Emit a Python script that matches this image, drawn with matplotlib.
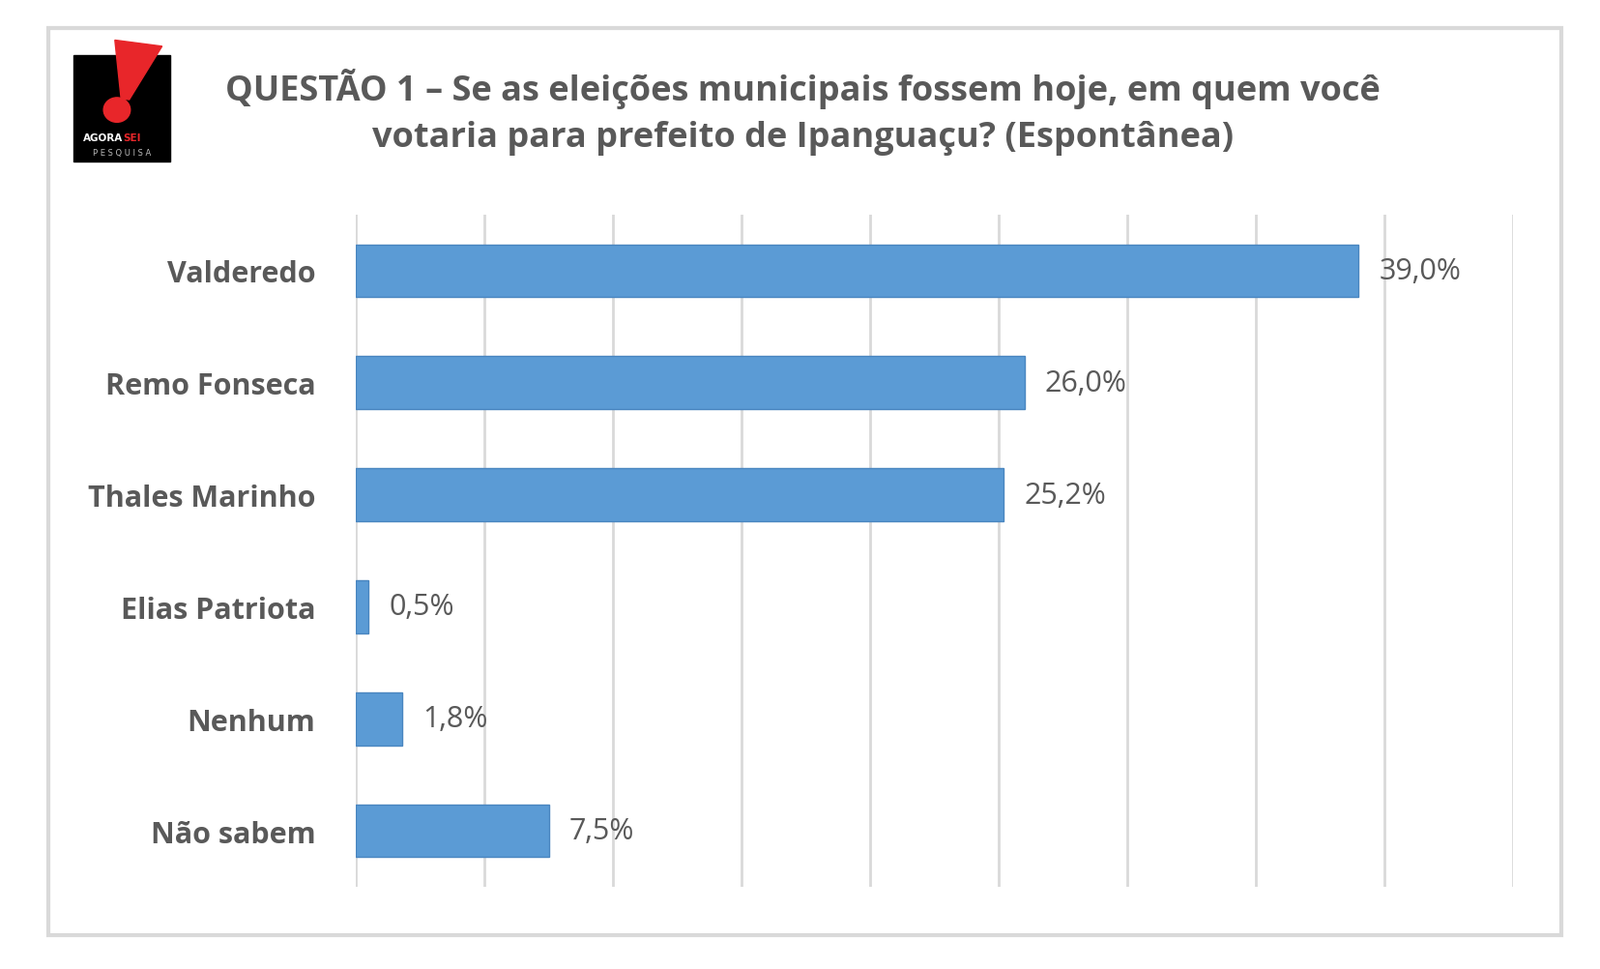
import matplotlib
matplotlib.use("Agg")
import matplotlib.pyplot as plt
from matplotlib.patches import Rectangle, Polygon, Ellipse

categories = ["Valderedo", "Remo Fonseca", "Thales Marinho", "Elias Patriota", "Nenhum", "Não sabem"]
values = [39.0, 26.0, 25.2, 0.5, 1.8, 7.5]
value_labels = ["39,0%", "26,0%", "25,2%", "0,5%", "1,8%", "7,5%"]

W, H = 1560.0, 945.0  # reference layout units
fig = plt.figure(figsize=(16.55, 10.03), dpi=100)
fig.patch.set_facecolor("white")

# outer frame
fig.patches.append(Rectangle((47 / W, 1 - 912 / H), (1522 - 47) / W, (912 - 28) / H,
                             transform=fig.transFigure, fill=False, ec="#d9d9d9", lw=3))

ax = fig.add_axes([347 / W, 1 - 865 / H, (1475 - 347) / W, (865 - 210) / H])
y = list(range(len(categories)))
ax.barh(y, values, height=0.47, color="#5b9bd5", edgecolor="#4a86c0", lw=1, zorder=3)
ax.set_xlim(0, 45)
ax.set_ylim(len(categories) - 0.5, -0.5)
ax.set_xticks(range(0, 46, 5))
ax.grid(axis="x", color="#d9d9d9", lw=2, zorder=0)
ax.tick_params(axis="x", length=0, labelbottom=False)
ax.tick_params(axis="y", length=0, pad=30)
ax.set_yticks(y)
ax.set_yticklabels(categories, fontsize=22, fontweight="bold", color="#595959", family="Open Sans")
for s in ax.spines.values():
    s.set_visible(False)
for yi, v, lab in zip(y, values, value_labels):
    ax.text(v + 0.8, yi, lab, va="center", ha="left", fontsize=22, color="#595959", family="Open Sans")

fig.text(783 / W, 1 - 87 / H, "QUESTÃO 1 – Se as eleições municipais fossem hoje, em quem você",
         ha="center", va="center", fontsize=26, fontweight="bold", color="#595959", family="Open Sans")
fig.text(783 / W, 1 - 135 / H, "votaria para prefeito de Ipanguaçu? (Espontânea)",
         ha="center", va="center", fontsize=26, fontweight="bold", color="#595959", family="Open Sans")

# logo
lx0, ly0, lx1, ly1 = 72 / W, 1 - 158 / H, 166 / W, 1 - 55 / H
fig.patches.append(Rectangle((lx0, ly0), lx1 - lx0, ly1 - ly0, transform=fig.transFigure,
                             color="black", zorder=1))
fig.patches.append(Polygon([(112 / W, 1 - 40 / H), (158 / W, 1 - 46 / H), (126 / W, 1 - 98 / H),
                            (118 / W, 1 - 97 / H)], closed=True, transform=fig.transFigure,
                           color="#e8262a", zorder=2))
fig.patches.append(Ellipse((114 / W, 1 - 108 / H), 26 / W, 24 / H, transform=fig.transFigure,
                           color="#e8262a", zorder=2))
fig.text(120 / W, 1 - 135 / H, "AGORA", ha="right", va="center", fontsize=7.5, fontweight="bold", color="white")
fig.text(120 / W, 1 - 135 / H, "SEI", ha="left", va="center", fontsize=7.5, fontweight="bold", color="#e8262a")
fig.text(119 / W, 1 - 149 / H, "P E S Q U I S A", ha="center", va="center", fontsize=6, color="#bbbbbb")

fig.savefig("out.png", dpi=100, facecolor="white")
